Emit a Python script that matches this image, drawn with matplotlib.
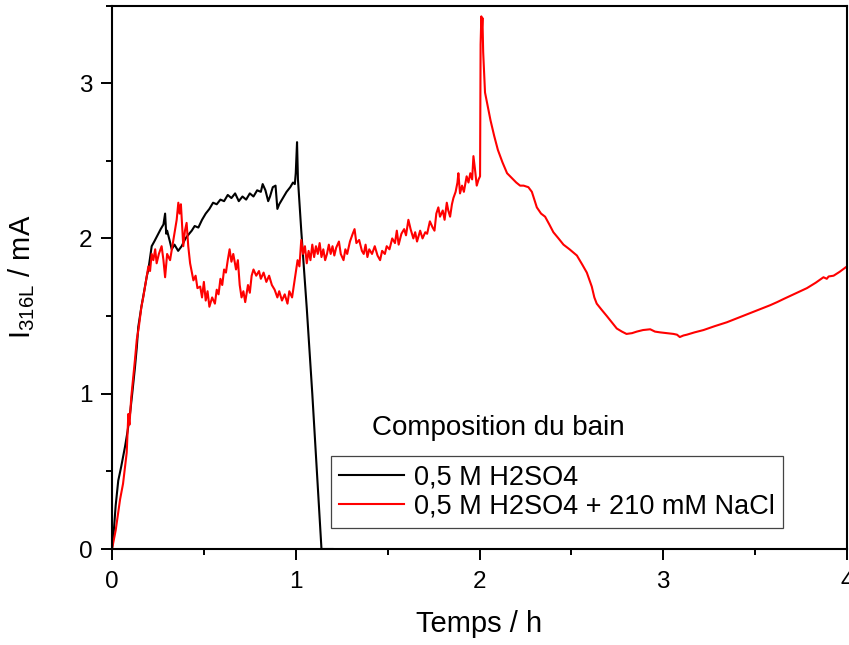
import matplotlib
matplotlib.use("Agg")
import matplotlib.pyplot as plt
from matplotlib.ticker import MultipleLocator

plt.rcParams['font.family'] = ['Liberation Sans', 'DejaVu Sans']
plt.rcParams['mathtext.fontset'] = 'custom'
plt.rcParams['mathtext.rm'] = 'Liberation Sans'
plt.rcParams['mathtext.default'] = 'regular'

# --- data: 0,5 M H2SO4 (black) ---
t_h2so4 = [0, 0.01, 0.02, 0.034, 0.05, 0.071, 0.085, 0.098, 0.11, 0.125, 0.135, 0.143,
           0.16, 0.175, 0.19, 0.198, 0.216, 0.23, 0.252, 0.265, 0.28, 0.289, 0.295, 0.30,
           0.315, 0.325, 0.34, 0.36, 0.379, 0.40, 0.42, 0.434, 0.45, 0.47, 0.49, 0.51,
           0.53, 0.55, 0.57, 0.59, 0.61, 0.63, 0.65, 0.67, 0.69, 0.71, 0.73, 0.75, 0.77,
           0.79, 0.81, 0.82, 0.835, 0.85, 0.86, 0.875, 0.89, 0.90, 0.91, 0.93, 0.95, 0.97,
           0.985, 0.995, 1.0, 1.007, 1.012, 1.03, 1.06, 1.09, 1.12, 1.14, 1.2]
i_h2so4 = [0, 0.12, 0.28, 0.44, 0.53, 0.66, 0.76, 0.87, 1.0, 1.17, 1.30, 1.43,
           1.56, 1.66, 1.76, 1.80, 1.95, 1.98, 2.03, 2.06, 2.09, 2.16, 2.03, 2.05,
           1.98, 1.93, 1.96, 1.92, 1.95, 2.0, 2.03, 2.05, 2.08, 2.07, 2.12, 2.16,
           2.19, 2.23, 2.22, 2.25, 2.24, 2.28, 2.26, 2.29, 2.24, 2.27, 2.25, 2.29, 2.27,
           2.31, 2.30, 2.35, 2.31, 2.24, 2.27, 2.33, 2.34, 2.19, 2.22, 2.26, 2.30, 2.33,
           2.36, 2.35, 2.42, 2.62, 2.38, 2.05, 1.55, 1.0, 0.4, 0.0, 0.0]

# --- data: 0,5 M H2SO4 + 210 mM NaCl (red) ---
t_nacl = [0, 0.02, 0.044, 0.06, 0.071, 0.08, 0.089, 0.095, 0.105, 0.115, 0.125, 0.135,
          0.145, 0.16, 0.17, 0.18, 0.19, 0.198, 0.207, 0.216, 0.225, 0.235, 0.243, 0.255,
          0.27, 0.28, 0.289, 0.30, 0.316, 0.33, 0.343, 0.352, 0.361, 0.368, 0.375, 0.388,
          0.397, 0.406, 0.415, 0.425, 0.435, 0.443, 0.455, 0.465, 0.48, 0.49, 0.50, 0.51,
          0.52, 0.53, 0.545, 0.56, 0.57, 0.58, 0.59, 0.60, 0.61, 0.62, 0.63, 0.64, 0.65,
          0.66, 0.675, 0.685, 0.695, 0.705, 0.715, 0.725, 0.74, 0.75, 0.76, 0.77, 0.785,
          0.80, 0.81, 0.825, 0.84, 0.855, 0.87, 0.885, 0.90, 0.91, 0.925, 0.94, 0.955,
          0.965, 0.98, 0.99, 1.0, 1.01, 1.02, 1.03, 1.04, 1.05, 1.06, 1.07, 1.08, 1.09,
          1.10, 1.11, 1.12, 1.13, 1.14, 1.15, 1.16, 1.17, 1.18, 1.19, 1.20, 1.21, 1.22,
          1.235, 1.245, 1.26, 1.27, 1.28, 1.295, 1.31, 1.32, 1.33, 1.345, 1.36, 1.37,
          1.38, 1.39, 1.40, 1.415, 1.43, 1.445, 1.459, 1.47, 1.485, 1.495, 1.51, 1.525,
          1.54, 1.55, 1.56, 1.575, 1.59, 1.60, 1.613, 1.625, 1.64, 1.65, 1.66, 1.677,
          1.69, 1.705, 1.715, 1.73, 1.745, 1.755, 1.765, 1.776, 1.785, 1.80, 1.81, 1.822,
          1.83, 1.84, 1.85, 1.858, 1.87, 1.88, 1.885, 1.894, 1.905, 1.915, 1.93, 1.94,
          1.95, 1.96, 1.967, 1.975, 1.985, 1.995, 2.003, 2.006, 2.010, 2.013, 2.016,
          2.02, 2.03, 2.045, 2.06, 2.08, 2.10, 2.125, 2.15, 2.175, 2.20, 2.221, 2.24,
          2.266, 2.285, 2.312, 2.335, 2.357, 2.38, 2.402, 2.43, 2.457, 2.49, 2.53, 2.56,
          2.584, 2.611, 2.625, 2.638, 2.665, 2.693, 2.72, 2.747, 2.775, 2.80, 2.83,
          2.856, 2.89, 2.929, 2.955, 2.983, 3.02, 3.056, 3.075, 3.09, 3.11, 3.128, 3.17,
          3.219, 3.28, 3.346, 3.40, 3.455, 3.52, 3.582, 3.62, 3.655, 3.709, 3.745,
          3.782, 3.83, 3.872, 3.89, 3.90, 3.927, 3.96, 4.0]
i_nacl = [0, 0.12, 0.32, 0.42, 0.53, 0.62, 0.87, 0.80, 0.98, 1.10, 1.22, 1.35,
          1.42, 1.56, 1.62, 1.69, 1.76, 1.82, 1.79, 1.90, 1.86, 1.93, 1.84, 1.90,
          1.95, 1.86, 1.75, 1.90, 1.86, 1.96, 2.05, 2.12, 2.23, 2.16, 2.22, 1.95,
          2.05, 2.10, 1.95, 1.84, 1.78, 1.73, 1.76, 1.68, 1.69, 1.62, 1.72, 1.60,
          1.66, 1.56, 1.62, 1.58, 1.67, 1.64, 1.74, 1.70, 1.80, 1.78, 1.86, 1.93, 1.85,
          1.90, 1.80, 1.86, 1.70, 1.62, 1.66, 1.59, 1.70, 1.65, 1.76, 1.80, 1.76,
          1.79, 1.74, 1.78, 1.72, 1.76, 1.70, 1.67, 1.62, 1.66, 1.60, 1.64, 1.58,
          1.66, 1.62, 1.70, 1.78, 1.86, 1.82, 1.99, 1.90, 1.95, 1.84, 1.92, 1.86, 1.96,
          1.88, 1.95, 1.90, 1.97, 1.88, 1.93, 1.86, 1.90, 1.96, 1.90, 1.95, 1.89, 1.94,
          1.98, 1.90, 1.86, 1.93, 1.90, 1.98, 2.03, 2.06, 1.97, 1.99, 1.92, 1.90,
          1.96, 1.88, 1.93, 1.90, 1.95, 1.89, 1.86, 1.92, 1.90, 1.95, 1.93, 2.00,
          1.97, 2.05, 1.96, 2.03, 2.06, 2.02, 2.12, 2.06, 2.00, 2.04, 1.98, 2.05,
          2.00, 2.04, 2.03, 2.11, 2.07, 2.05, 2.16, 2.20, 2.14, 2.18, 2.12, 2.23,
          2.18, 2.14, 2.22, 2.26, 2.30, 2.36, 2.42, 2.29, 2.34, 2.30, 2.40, 2.36,
          2.42, 2.38, 2.53, 2.45, 2.34, 2.38, 2.40, 3.25, 3.43, 3.35, 3.42,
          3.20, 2.94, 2.85, 2.76, 2.66, 2.57, 2.49, 2.42, 2.39, 2.36, 2.34, 2.34,
          2.33, 2.30, 2.20, 2.16, 2.14, 2.09, 2.04, 2.00, 1.96, 1.93, 1.89, 1.83,
          1.78, 1.69, 1.62, 1.58, 1.54, 1.50, 1.46, 1.42, 1.40, 1.385, 1.39,
          1.40, 1.41, 1.415, 1.40, 1.395, 1.39, 1.385, 1.38, 1.365, 1.375, 1.38, 1.395,
          1.41, 1.435, 1.46, 1.485, 1.51, 1.54, 1.57, 1.59, 1.61, 1.64, 1.66,
          1.68, 1.715, 1.75, 1.74, 1.755, 1.76, 1.785, 1.82]

series_labels = ["0,5 M H2SO4", "0,5 M H2SO4 + 210 mM NaCl"]
legend_title = "Composition du bain"
xlabel = "Temps / h"
ylabel = "I$_{316L}$ / mA"

fig = plt.figure(figsize=(8.49, 6.45), dpi=100)
ax = fig.add_axes([112/849, 1 - 549/645, 735/849, (549 - 5.5)/645])

ax.plot(t_h2so4, i_h2so4, color='black', lw=1.5, label=series_labels[0])
ax.plot(t_nacl, i_nacl, color='#ff0000', lw=1.5, label=series_labels[1])

ax.set_xlim(0, 4)
ax.set_ylim(0, 3.5)
ax.xaxis.set_major_locator(MultipleLocator(1))
ax.xaxis.set_minor_locator(MultipleLocator(0.5))
ax.yaxis.set_major_locator(MultipleLocator(1))
ax.yaxis.set_minor_locator(MultipleLocator(0.5))
ax.tick_params(which='major', direction='out', length=8, width=1.4, labelsize=17.5, pad=6)
ax.tick_params(axis='x', which='major', pad=8)
ax.tick_params(which='minor', direction='out', length=4.5, width=1.4)
for s in ax.spines.values():
    s.set_linewidth(1.5)

ax.set_xlabel(xlabel, fontsize=21, labelpad=12)
ax.set_ylabel(ylabel, fontsize=21, labelpad=30)

leg = ax.legend(loc='upper left', bbox_to_anchor=(0.298, 0.171), fontsize=19.5,
                frameon=True, fancybox=False, edgecolor='#444444', framealpha=1,
                handlelength=2.4, handletextpad=0.35, labelspacing=0.12,
                borderpad=0.3, borderaxespad=0)
leg.get_frame().set_linewidth(0.9)
ax.text(0.354, 0.223, legend_title, transform=ax.transAxes, fontsize=20,
        va='center', ha='left')

fig.savefig("out.png", dpi=100)
